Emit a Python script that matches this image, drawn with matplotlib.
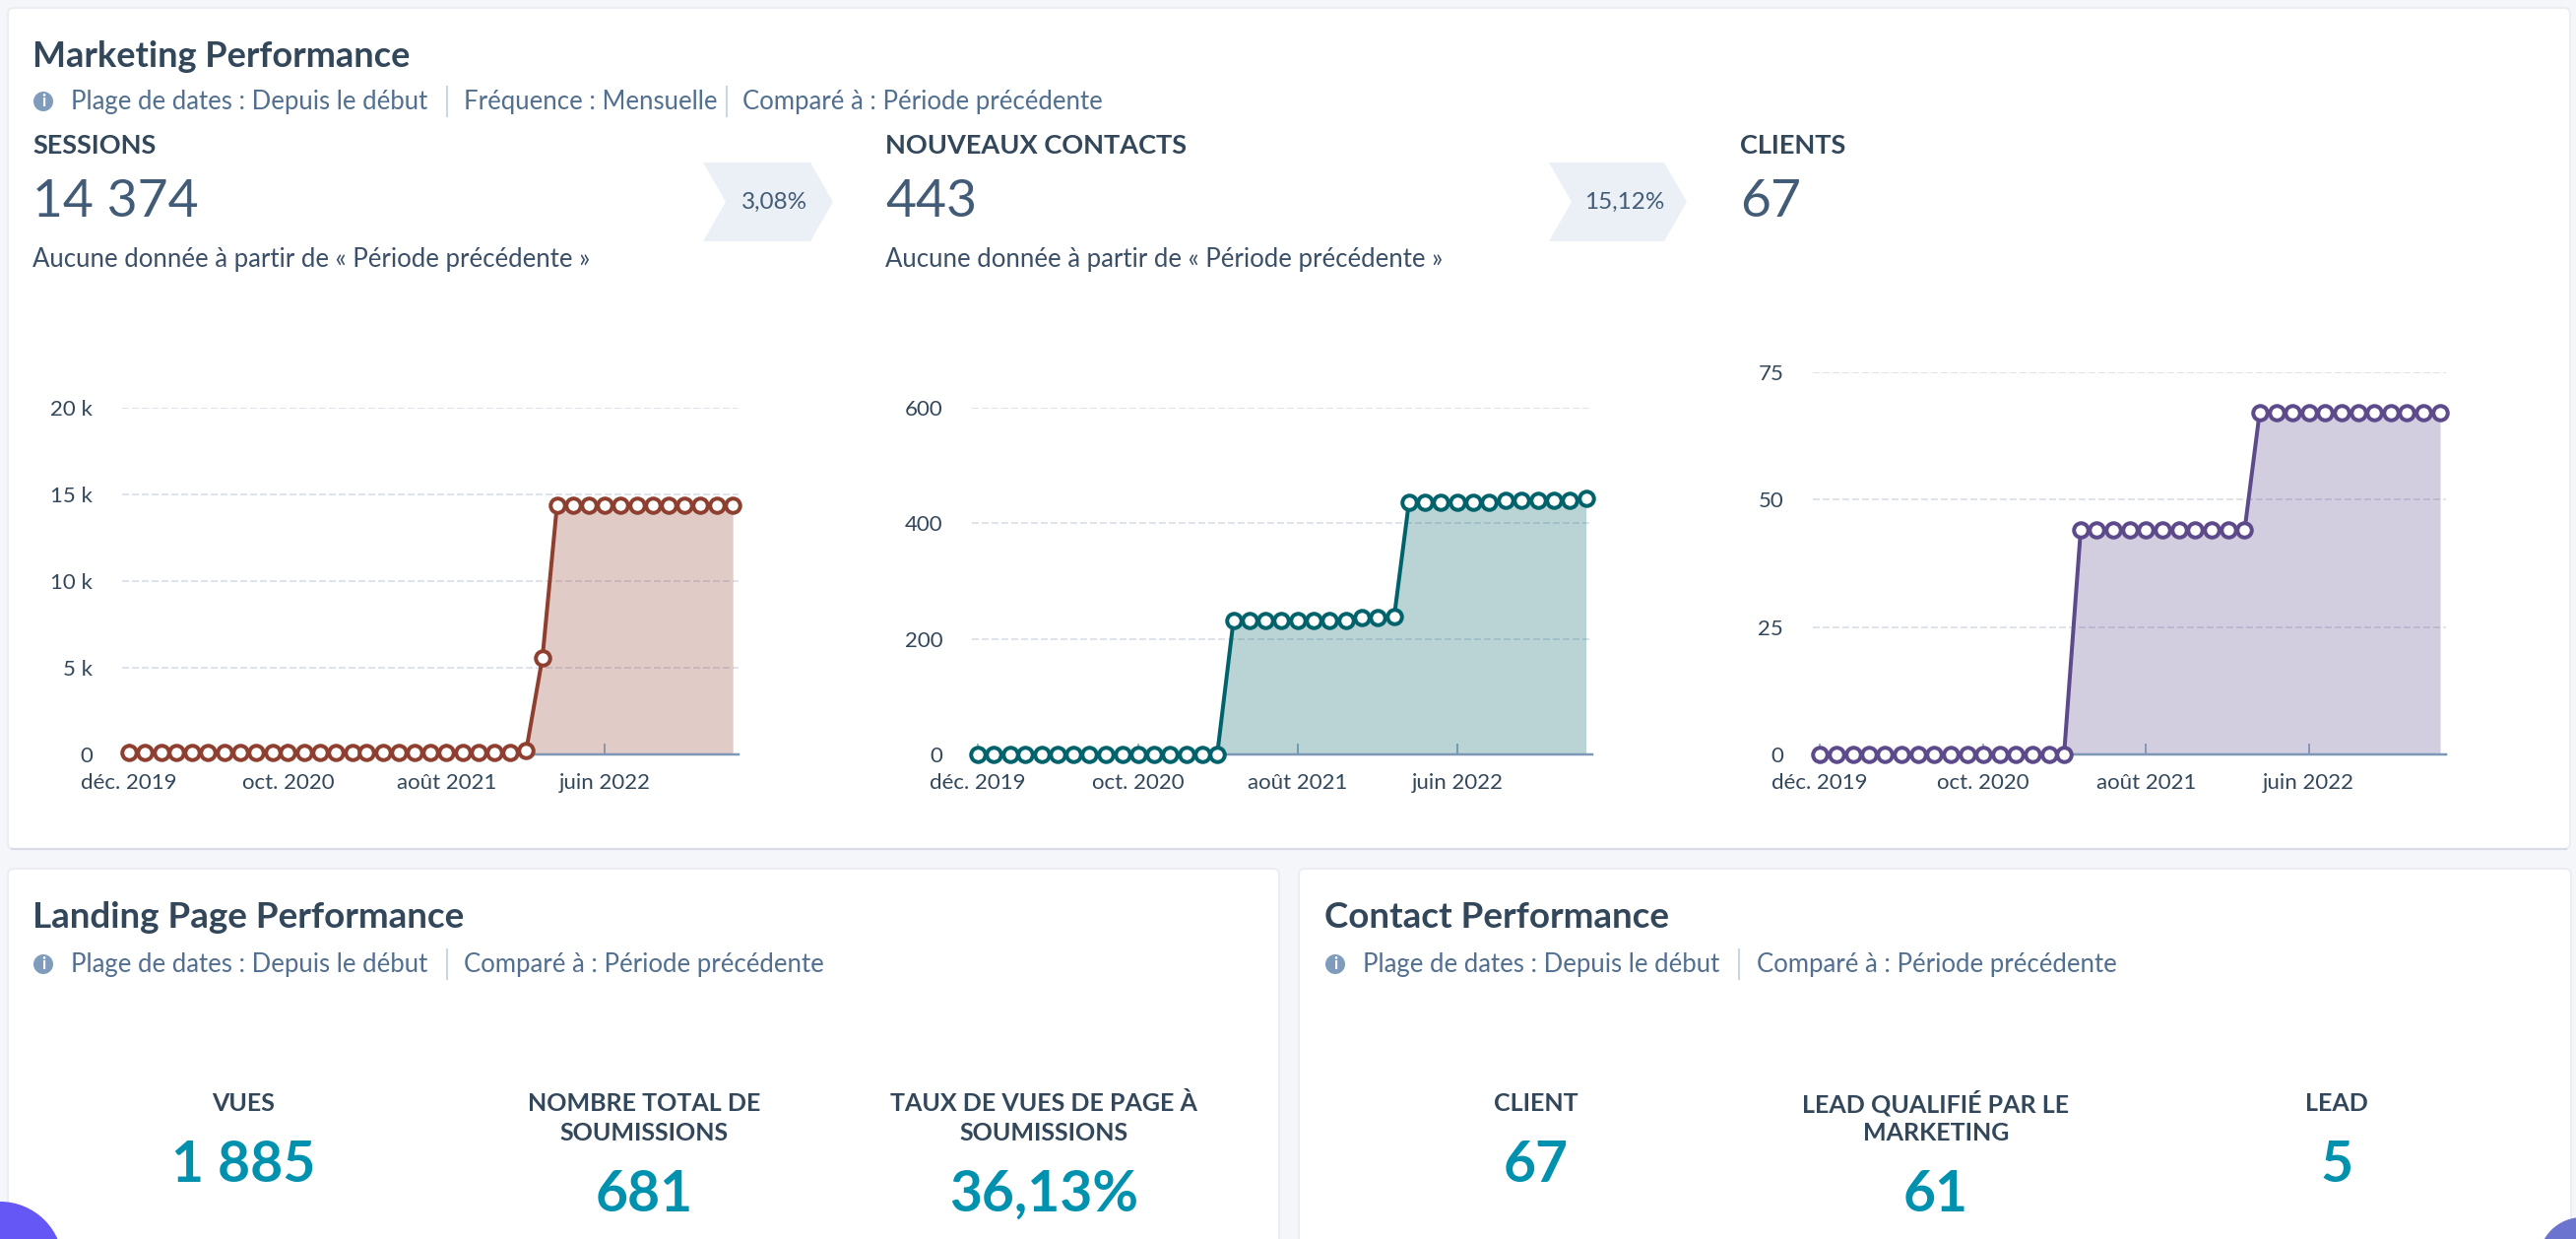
import matplotlib
matplotlib.use("Agg")
import matplotlib.pyplot as plt
import pandas as pd
from matplotlib.patches import Circle, FancyBboxPatch, Polygon

W, H = 2616, 1258
DPI = 100
PT = 72 / DPI  # one output pixel in points

plt.rcParams["font.family"] = ["Lato", "DejaVu Sans"]

# ==== data ====
MONTHS = pd.date_range("2019-12-01", periods=39, freq="MS")
TICK_MONTHS = ["2019-12-01", "2020-10-01", "2021-08-01", "2022-06-01"]
TICK_LABELS = ["déc. 2019", "oct. 2020", "août 2021", "juin 2022"]

SESSIONS = [110] * 25 + [250, 5580] + [14374] * 12
CONTACTS = [0] * 16 + [232, 232, 232, 232, 232, 232, 232, 232, 236, 236, 239] + \
    [436, 436, 436, 436, 436, 436, 440, 440, 440, 440, 440, 443]
CLIENTS = [0] * 16 + [44] * 11 + [67] * 12

SESSIONS_YTICKS = [0, 5000, 10000, 15000, 20000]
SESSIONS_YLABELS = ["0", "5 k", "10 k", "15 k", "20 k"]
CONTACTS_YTICKS = [0, 200, 400, 600]
CONTACTS_YLABELS = ["0", "200", "400", "600"]
CLIENTS_YTICKS = [0, 25, 50, 75]
CLIENTS_YLABELS = ["0", "25", "50", "75"]

KPI_LABELS = ["VUES", "NOMBRE TOTAL DE\nSOUMISSIONS", "TAUX DE VUES DE PAGE À\nSOUMISSIONS",
              "CLIENT", "LEAD QUALIFIÉ PAR LE\nMARKETING", "LEAD"]
KPI_VALUES = ["1 885", "681", "36,13%", "67", "61", "5"]

DARK = "#33475B"
MID = "#425B76"
SUB = "#516F90"
TEAL = "#0091AE"
AXIS = "#7C98B6"
GRID = "#DFE3EB"

fig = plt.figure(figsize=(W / DPI, H / DPI), dpi=DPI, facecolor="#F5F6F9")

# overlay in pixel coordinates for the dashboard cards and texts
bg = fig.add_axes([0, 0, 1, 1])
bg.set_xlim(0, W)
bg.set_ylim(H, 0)
bg.axis("off")


def card(x0, y0, x1, y1):
    bg.add_patch(FancyBboxPatch((x0, y0), x1 - x0, y1 - y0, boxstyle="round,pad=0,rounding_size=6",
                                fc="white", ec="#EBEDF2", lw=1.5))


def txt(x, y, s, size, color=DARK, weight="normal", ha="left", va="center"):
    bg.text(x, y, s, fontsize=size, color=color, fontweight=weight, ha=ha, va=va)


def subtitle(x_icon, y, parts, xs, seps):
    bg.add_patch(Circle((x_icon, y), 10, fc="#7F9CBD", ec="none"))
    bg.text(x_icon, y, "i", fontsize=12, color="white", fontweight="bold", ha="center", va="center")
    for s, x in zip(parts, xs):
        txt(x, y + 1, s, 18.5, SUB)
    for x in seps:
        bg.plot([x, x], [y - 15, y + 15], color="#CBD6E2", lw=1.5)


card(8, 8, 2610, 862)
bg.plot([12, 2606], [862, 862], color="#D9DCE6", lw=1.5)
card(8, 882, 1299, H + 20)
card(1319, 882, 2611, H + 20)

txt(33, 57, "Marketing Performance", 26, DARK, "bold")
subtitle(44, 103, ["Plage de dates : Depuis le début", "Fréquence : Mensuelle", "Comparé à : Période précédente"],
         [72, 471, 754], [453.5, 738])

txt(33, 148, "SESSIONS", 19.5, DARK, "bold")
txt(899, 148, "NOUVEAUX CONTACTS", 19.5, DARK, "bold")
txt(1767, 148, "CLIENTS", 19.5, DARK, "bold")
txt(33, 206, "14 374", 38.5, MID)
txt(899, 206, "443", 38.5, MID)
txt(1767, 206, "67", 38.5, MID)
txt(33, 264, "Aucune donnée à partir de « Période précédente »", 18.5, "#3B5068")
txt(899, 264, "Aucune donnée à partir de « Période précédente »", 18.5, "#3B5068")

for left, width, label in [(714, 132, "3,08%"), (1573, 140, "15,12%")]:
    bg.add_patch(Polygon([(left, 165), (left + width - 23, 165), (left + width, 205), (left + width - 23, 245),
                          (left, 245), (left + 23, 205)], fc="#EAF0F6", ec="none"))
    txt(left + width * 0.55, 205, label, 17.5, MID, ha="center")

txt(33, 931, "Landing Page Performance", 26.5, DARK, "bold")
subtitle(44, 979, ["Plage de dates : Depuis le début", "Comparé à : Période précédente"], [72, 471], [453.5])
txt(1345, 931, "Contact Performance", 26.5, DARK, "bold")
subtitle(1356, 979, ["Plage de dates : Depuis le début", "Comparé à : Période précédente"], [1384, 1784], [1766])

KPI_X = [247, 654, 1060, 1560, 1966, 2373]
for label, value, x in zip(KPI_LABELS, KPI_VALUES, KPI_X):
    lines = label.split("\n")
    for i, line in enumerate(lines):
        txt(x, 1120 + 30 * i, line, 18, DARK, "bold", ha="center")
    txt(x, 1213 if len(lines) > 1 else 1184, value, 41, TEAL, "bold", ha="center")

bg.add_patch(Circle((0, 1284), 64, fc="#6457F5", ec="none"))
bg.add_patch(Circle((2622, 1280), 44, fc="#6B75CF", ec="none"))


def chart(x0, x1, ytop, ybot, values, yticks, ylabels, color, left_days, right_days):
    ax = fig.add_axes([x0 / W, 1 - ybot / H, (x1 - x0) / W, (ybot - ytop) / H], facecolor="none")
    ax.fill_between(MONTHS, values, 0, color=color, alpha=0.27, lw=0, zorder=1.5)
    ax.plot(MONTHS, values, color=color, lw=4 * PT, marker="o", ms=14.5 * PT, mfc="white", mec=color,
            mew=4 * PT, clip_on=False, zorder=4)
    ax.set_xlim(MONTHS[0] - pd.Timedelta(days=left_days), MONTHS[-1] + pd.Timedelta(days=right_days))
    ax.set_ylim(0, yticks[-1])
    ax.set_xticks(pd.to_datetime(TICK_MONTHS))
    ax.set_xticklabels(TICK_LABELS)
    ax.set_yticks(yticks)
    ax.set_yticklabels(ylabels)
    ax.set_axisbelow(True)
    ax.grid(axis="y", color=GRID, lw=2 * PT, linestyle=(0, (3.5, 1.5)))
    ax.grid(axis="x", visible=False)
    for side in ["top", "right", "left"]:
        ax.spines[side].set_visible(False)
    ax.spines["bottom"].set_color(AXIS)
    ax.spines["bottom"].set_linewidth(2.5 * PT)
    ax.tick_params(axis="x", direction="in", length=11 * PT, width=1.5 * PT, color=AXIS, labelcolor=DARK,
                   labelsize=16, pad=14)
    ax.tick_params(axis="y", length=0, labelcolor=DARK, labelsize=16, pad=21.5)
    return ax


chart(124, 750, 413.7, 766, SESSIONS, SESSIONS_YTICKS, SESSIONS_YLABELS, "#8E3F30", 13, 11)
chart(987, 1617, 413.7, 766, CONTACTS, CONTACTS_YTICKS, CONTACTS_YLABELS, "#00636B", 11, 12)
chart(1841, 2484, 377.7, 766, CLIENTS, CLIENTS_YTICKS, CLIENTS_YLABELS, "#5C4A8B", 13, 11)

fig.savefig("out.png", dpi=DPI, facecolor=fig.get_facecolor())
